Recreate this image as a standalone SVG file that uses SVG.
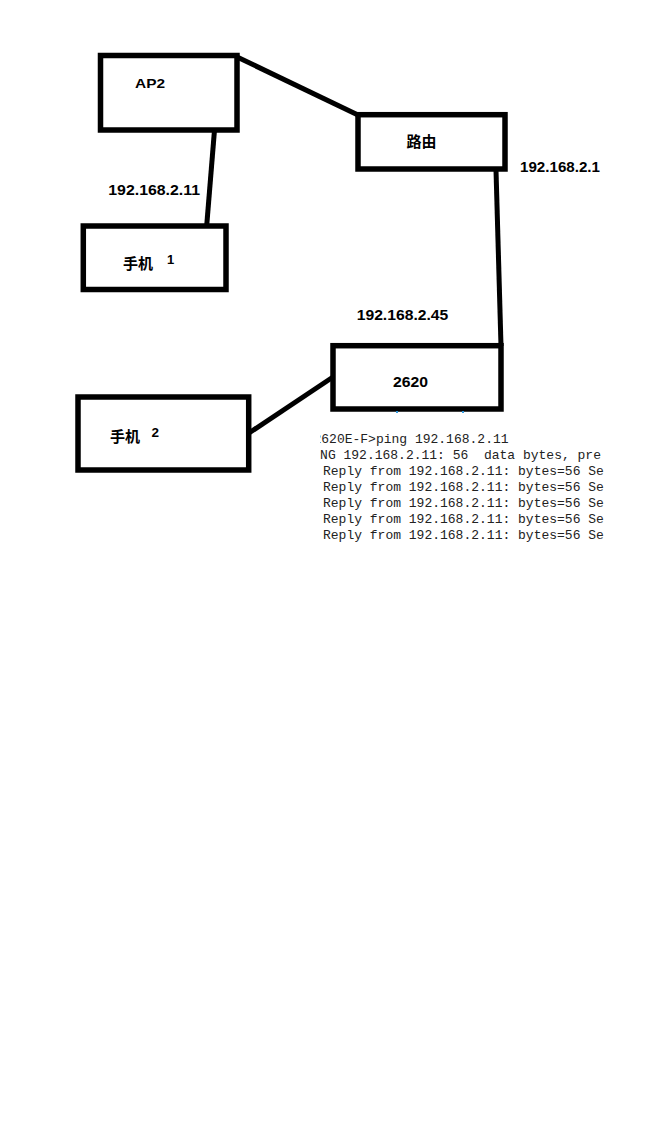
<svg xmlns="http://www.w3.org/2000/svg" width="666" height="1124" viewBox="0 0 666 1124">
  <style>
    .box { fill: #ffffff; stroke: #000000; stroke-width: 5.5; }
    .wire { stroke: #000000; stroke-width: 5; stroke-linecap: butt; fill: none; }
    .lbl { font-family: "Liberation Sans", "Noto Sans CJK SC", sans-serif; font-weight: bold; fill: #000000; }
    .cjk { font-family: "Noto Sans CJK SC", "Liberation Sans", sans-serif; font-weight: bold; fill: #000000; }
    .term { font-family: "Liberation Mono", "Courier New", monospace; font-size: 13px; fill: #222222; }
  </style>
  <defs>
    <clipPath id="termclip">
      <rect x="320" y="425" width="284" height="125"/>
    </clipPath>
  </defs>
  <rect x="0" y="0" width="666" height="1124" fill="#ffffff"/>

  <g id="connectors">
    <line class="wire" x1="235" y1="56" x2="358" y2="115"/>
    <line class="wire" x1="214.5" y1="130" x2="206.5" y2="228"/>
    <line class="wire" x1="496" y1="170" x2="501" y2="346"/>
    <line class="wire" x1="333" y1="377" x2="249" y2="433"/>
  </g>

  <g id="node-ap2">
    <rect class="box" x="100.5" y="55.5" width="136.5" height="74.5"/>
    <text class="lbl" x="135" y="88" font-size="13" textLength="30" lengthAdjust="spacingAndGlyphs">AP2</text>
  </g>

  <g id="node-router">
    <rect class="box" x="358" y="114.7" width="147" height="54.3"/>
    <text class="cjk" x="406.5" y="146.5" font-size="15">路由</text>
  </g>

  <g id="node-phone1">
    <rect class="box" x="83.3" y="226" width="142.7" height="63.5"/>
    <text class="cjk" x="123" y="269" font-size="15">手机</text>
    <text class="lbl" x="167" y="264" font-size="13">1</text>
  </g>

  <g id="node-2620">
    <rect class="box" x="333" y="345.7" width="168" height="63.3"/>
    <text class="lbl" x="393" y="387" font-size="14" textLength="35" lengthAdjust="spacingAndGlyphs">2620</text>
  </g>

  <g id="node-phone2">
    <rect class="box" x="78" y="397" width="170.7" height="73"/>
    <text class="cjk" x="110" y="442" font-size="15">手机</text>
    <text class="lbl" x="151.5" y="437" font-size="13.5">2</text>
  </g>

  <g id="ip-labels">
    <text class="lbl" x="520" y="171.5" font-size="14.5" textLength="80" lengthAdjust="spacingAndGlyphs">192.168.2.1</text>
    <text class="lbl" x="108.3" y="195" font-size="14.5" textLength="91.7" lengthAdjust="spacingAndGlyphs">192.168.2.11</text>
    <text class="lbl" x="356.7" y="320" font-size="14.5" textLength="91.6" lengthAdjust="spacingAndGlyphs">192.168.2.45</text>
  </g>

  <g id="marks" fill="#3399dd">
    <rect x="396" y="411" width="2" height="2"/>
    <rect x="462" y="411" width="2" height="2"/>
  </g>

  <g id="terminal" clip-path="url(#termclip)">
    <text class="term" x="313.5" y="443">2620E-F&gt;ping 192.168.2.11</text>
    <text class="term" x="304.5" y="459" xml:space="preserve">PING 192.168.2.11: 56  data bytes, pre</text>
    <text class="term" x="323" y="475">Reply from 192.168.2.11: bytes=56 Se</text>
    <text class="term" x="323" y="491">Reply from 192.168.2.11: bytes=56 Se</text>
    <text class="term" x="323" y="507">Reply from 192.168.2.11: bytes=56 Se</text>
    <text class="term" x="323" y="523">Reply from 192.168.2.11: bytes=56 Se</text>
    <text class="term" x="323" y="539">Reply from 192.168.2.11: bytes=56 Se</text>
  </g>
</svg>
